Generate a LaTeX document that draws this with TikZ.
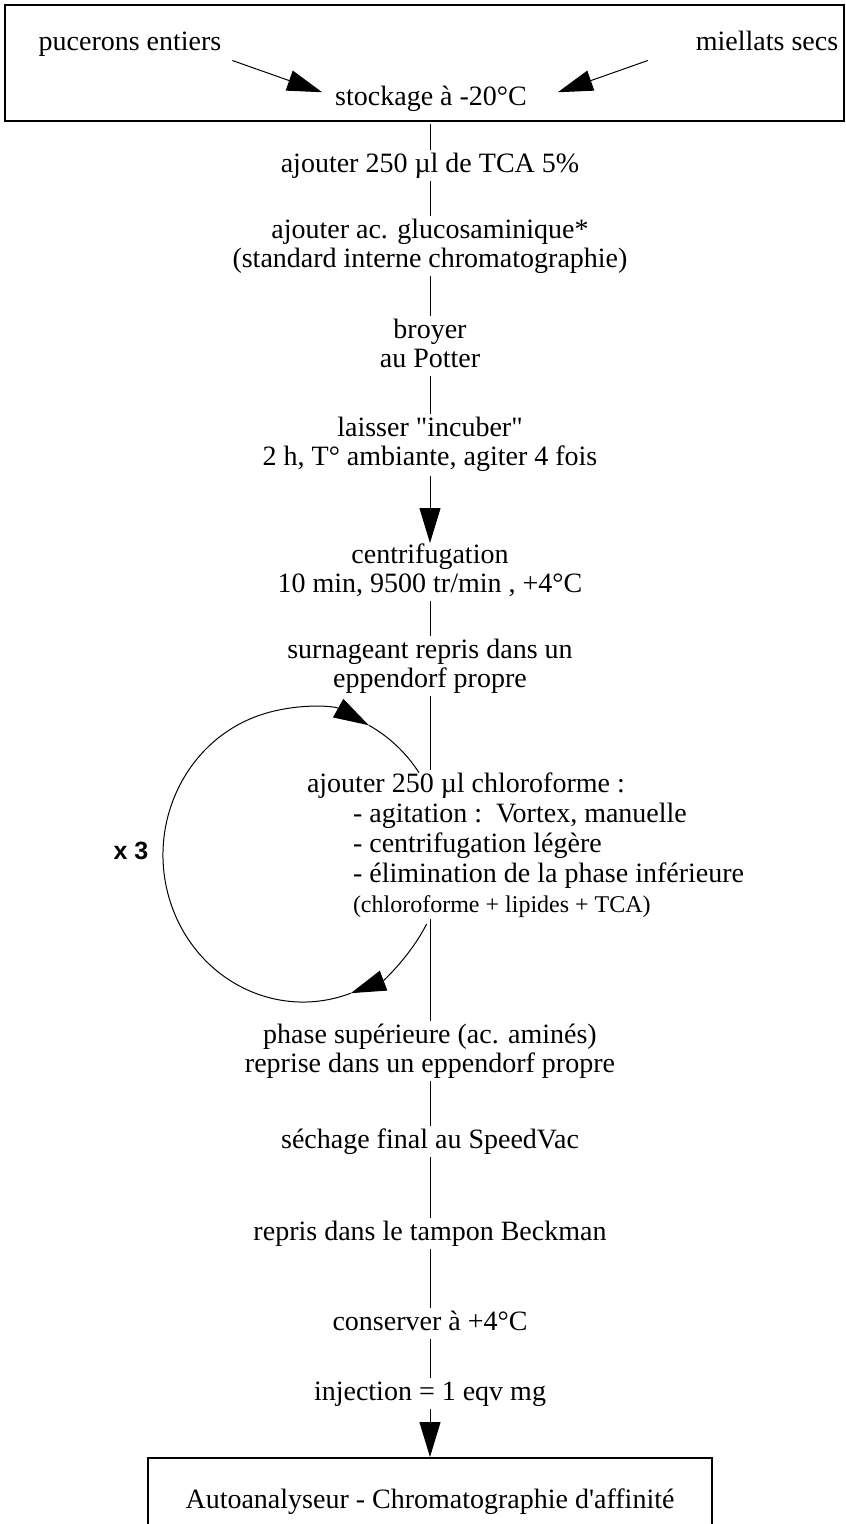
\documentclass[tikz,border=0pt]{standalone}
\usepackage{fontspec}
\setmainfont{Liberation Serif}[Ligatures=TeXOff]
\newfontfamily\xsans{Liberation Sans}
\usetikzlibrary{arrows.meta}
\newcommand\tu{\rule[-6.5pt]{0pt}{26.5pt}}
\begin{document}
\begin{tikzpicture}[x=1pt,y=1pt,
  txt/.style={inner sep=0pt,outer sep=0pt,font=\fontsize{28}{29}\selectfont,align=center},
  small/.style={inner sep=0pt,outer sep=0pt,font=\fontsize{24}{26}\selectfont},
  conn/.style={draw,line width=1pt,shorten <=2pt,shorten >=2pt},
  arr/.style={draw,line width=1pt,-{Triangle[length=35pt,width=21pt]}},
  loopline/.style={draw,line width=1pt},
  frame/.style={draw,line width=1.5pt,inner sep=0pt}]
\useasboundingbox (0,0) rectangle (846,-1524);
% top box
\node[frame,anchor=north west,minimum width=839pt,minimum height=116pt] (top) at (4,-4) {};
\node[txt,anchor=base] (puc) at (130,-50) {\tu pucerons entiers};
\node[txt,anchor=base] (miel) at (767,-50) {\tu miellats secs};
\node[txt,anchor=base] (stock) at (431,-105) {\tu stockage à -20°C};
\draw[arr] ([shift={(11,-4)}]puc.south east) -- ([shift={(-13,6)}]stock.west);
\draw[arr] ([shift={(-48,-4)}]miel.south west) -- ([shift={(31,6)}]stock.east);
% steps
\node[txt,anchor=north] (tca) at (430,-152) {\tu ajouter 250 µl de TCA 5\%};
\node[txt,anchor=north] (glu) at (430,-218) {\tu ajouter ac. glucosaminique*\\(standard interne chromatographie)\tu};
\node[txt,anchor=north] (broy) at (430,-318) {\tu broyer\\au Potter\tu};
\node[txt,anchor=north] (incub) at (430,-416) {\tu laisser "incuber"\\2 h, T° ambiante, agiter 4 fois\tu};
\node[txt,anchor=north] (centr) at (430,-543) {\tu centrifugation\\10 min, 9500 tr/min , +4°C\tu};
\node[txt,anchor=north] (surn) at (430,-638) {\tu surnageant repris dans un\\eppendorf propre\tu};
\node[txt,anchor=base west] (ch1) at (307,-792) {\tu ajouter 250 µl chloroforme :};
\node[txt,anchor=base west] (ch2) at (353,-822) {\tu - agitation :~~Vortex, manuelle};
\node[txt,anchor=base west] (ch3) at (353,-852) {\tu - centrifugation légère};
\node[txt,anchor=base west] (ch4) at (353,-882) {\tu - élimination de la phase inférieure};
\node[small,anchor=base west] (ch5) at (353,-912) {(chloroforme + lipides + TCA)};
\node[font=\xsans\bfseries\fontsize{25}{27}\selectfont,anchor=base,inner sep=0pt] (x3) at (131,-859) {x 3};
\node[txt,anchor=north] (phase) at (430,-1023) {\tu phase supérieure (ac. aminés)\\reprise dans un eppendorf propre\tu};
\node[txt,anchor=north] (sech) at (430,-1128) {\tu séchage final au SpeedVac};
\node[txt,anchor=north] (beck) at (430,-1220) {\tu repris dans le tampon Beckman};
\node[txt,anchor=north] (cons) at (430,-1310) {\tu conserver à +4°C};
\node[txt,anchor=north] (inj) at (430,-1380) {\tu injection = 1 eqv mg};
\node[frame,anchor=north,minimum width=564pt,minimum height=88pt,font=\fontsize{28}{29}\selectfont] (auto) at (430,-1457) {Autoanalyseur - Chromatographie d'affinité};
% connectors
\draw[conn] (tca.north |- top.south) -- (tca.north);
\draw[conn] (tca.south) -- (glu.north);
\draw[conn] (glu.south) -- (broy.north);
\draw[conn] (broy.south) -- (incub.north);
\draw[arr,shorten <=4pt] (incub.south) -- (centr.north);
\draw[conn] (centr.south) -- (surn.north);
\draw[conn] (surn.south) -- (surn.south |- ch1.north);
\draw[conn] (phase.north |- ch5.south) -- (phase.north);
\draw[conn] (phase.south) -- (sech.north);
\draw[conn] (sech.south) -- (beck.north);
\draw[conn] (beck.south) -- (cons.north);
\draw[conn] (cons.south) -- (inj.north);
\draw[arr,shorten <=2pt] (inj.south) -- (auto.north);
% loop x 3
\coordinate (lc) at (303,-855);
\draw[arr] (lc) ++(-28:140pt and 147pt) arc[start angle=-28,end angle=-70,x radius=140pt,y radius=147pt];
\draw[arr] (lc) ++(-70:140pt and 147pt) arc[start angle=-70,end angle=-298,x radius=140pt,y radius=147pt];
\draw[loopline] (lc) ++(62:140pt and 147pt) arc[start angle=62,end angle=34,x radius=140pt,y radius=147pt];
\end{tikzpicture}
\end{document}
